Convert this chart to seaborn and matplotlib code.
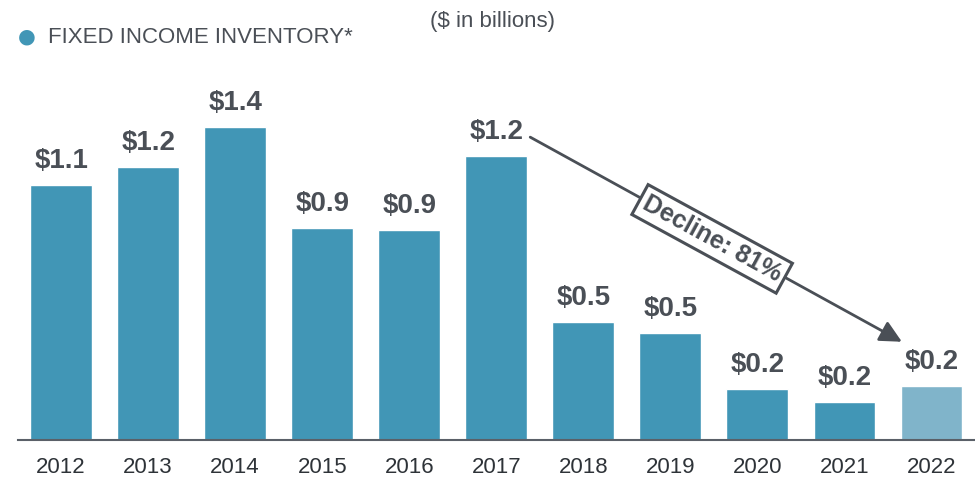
import pandas as pd
import seaborn as sns
import matplotlib.pyplot as plt

years = ['2012', '2013', '2014', '2015', '2016', '2017', '2018', '2019', '2020', '2021', '2022']
inventory = [1.14, 1.22, 1.40, 0.95, 0.94, 1.27, 0.53, 0.48, 0.23, 0.17, 0.24]
value_labels = ['$1.1', '$1.2', '$1.4', '$0.9', '$0.9', '$1.2', '$0.5', '$0.5', '$0.2', '$0.2', '$0.2']

BAR = '#4196b6'
LIGHT = '#80b4ca'
TEXT = '#4a4f56'

sns.set_theme(style='white')
plt.rcParams['font.family'] = ['Liberation Sans', 'DejaVu Sans']

df = pd.DataFrame({'Year': years, 'Inventory': inventory})
colors = [BAR] * (len(years) - 1) + [LIGHT]

fig = plt.figure(figsize=(9.75, 4.8), dpi=100)
ax = fig.add_axes([0.018, 0.083, 0.982, 0.792])

sns.barplot(data=df, x='Year', y='Inventory', hue='Year', palette=colors,
            legend=False, width=0.71, saturation=1, ax=ax)

ax.set_ylim(0, 1.70)
ax.set_xlim(-0.5, 10.5)
for s in ['top', 'right', 'left']:
    ax.spines[s].set_visible(False)
ax.spines['bottom'].set_color('#5a6068')
ax.spines['bottom'].set_linewidth(1.5)
ax.set_yticks([])
ax.set_xlabel('')
ax.set_ylabel('')
ax.tick_params(axis='x', length=0, pad=12, labelsize=16, labelcolor='#2e3338')

# Value labels above bars
for i, (v, lab) in enumerate(zip(inventory, value_labels)):
    ax.annotate(lab, (i, v), xytext=(0, 8), textcoords='offset points',
                ha='center', va='bottom', fontsize=20, fontweight='bold', color=TEXT)

# Decline arrow
ax.annotate('', xy=(9.66, 0.44), xytext=(5.39, 1.355),
            arrowprops=dict(arrowstyle='-|>,head_length=1.1,head_width=0.55',
                            color=TEXT, lw=2, shrinkA=0, shrinkB=0))
ax.text(7.48, 0.90, 'Decline: 81%', rotation=-28.6, rotation_mode='anchor',
        ha='center', va='center', fontsize=18, fontweight='bold', color=TEXT,
        bbox=dict(boxstyle='square,pad=0.2', fc='white', ec=TEXT, lw=2.2))

# Legend and units
fig.text(0.028, 0.921, '\u25CF', fontsize=26, color=BAR, ha='center', va='center')
fig.text(0.049, 0.921, 'FIXED INCOME INVENTORY*', fontsize=16, color=TEXT,
         ha='left', va='center')
fig.text(0.441, 0.955, '($ in billions)', fontsize=16, color=TEXT,
         ha='left', va='center')

plt.savefig('out.png', dpi=100)
